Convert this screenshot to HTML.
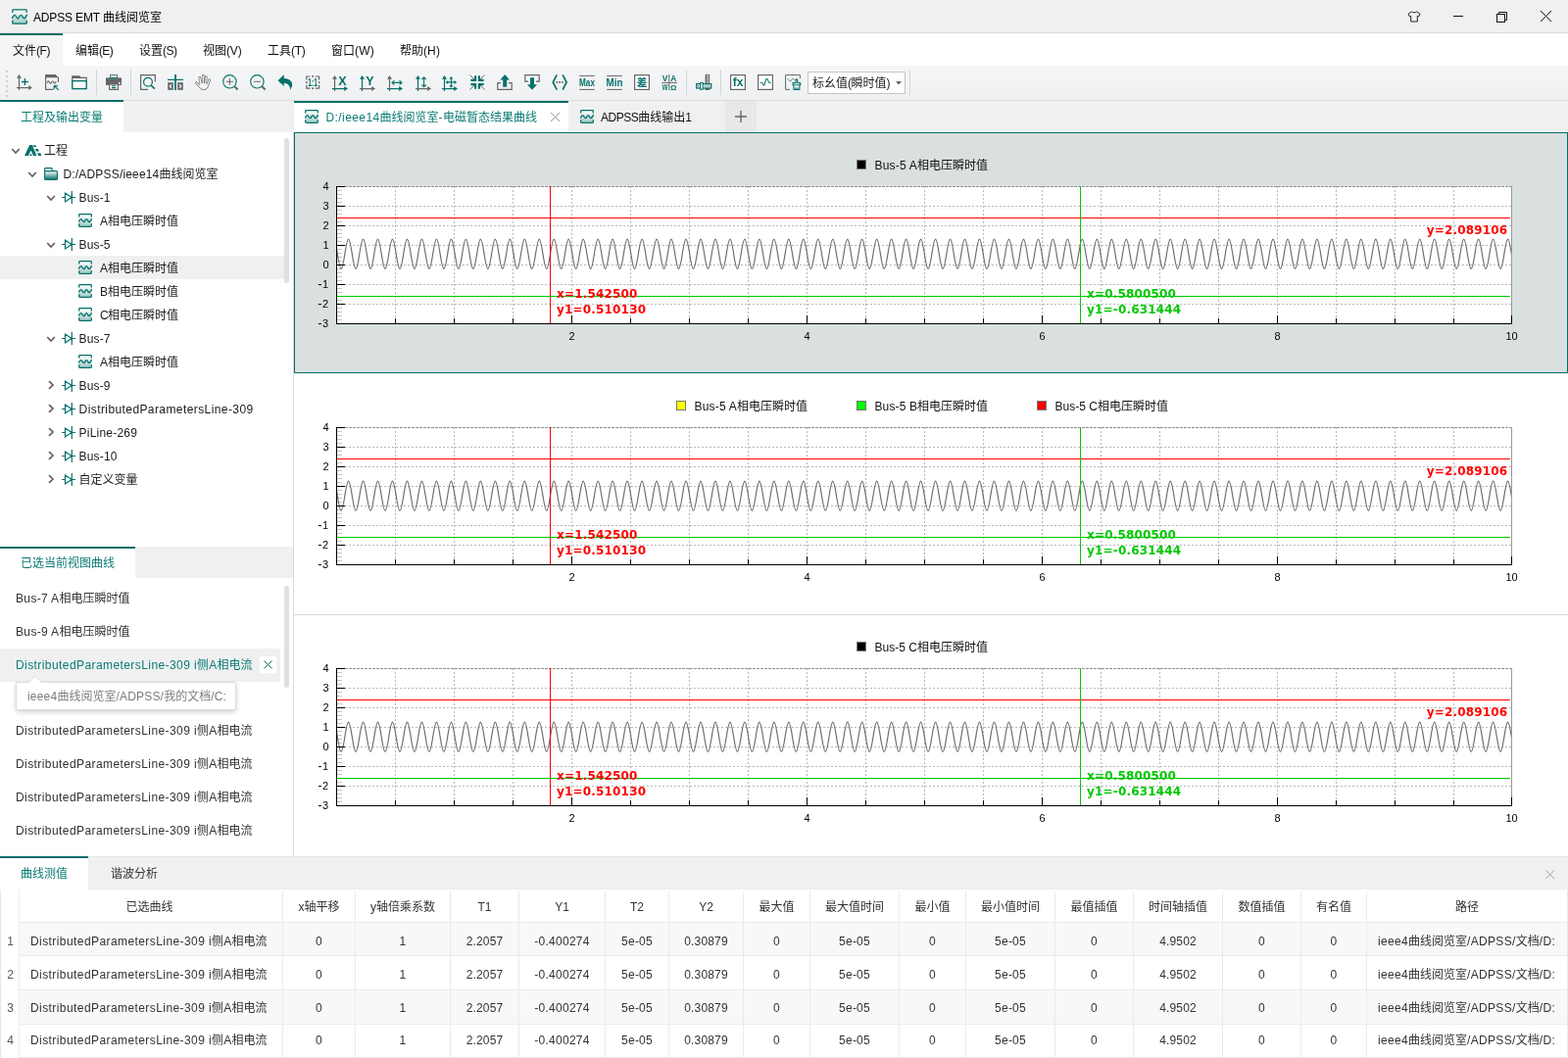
<!DOCTYPE html>
<html lang="zh-CN"><head><meta charset="utf-8"><title>ADPSS EMT 曲线阅览室</title><style>
html,body{margin:0;padding:0}
body{width:1600px;height:1080px;position:relative;overflow:hidden;background:#fff;font:12px 'Liberation Sans','Noto Sans CJK SC',sans-serif;}
body>div,body>svg{position:absolute}
.t{white-space:pre}
.ic{overflow:visible}
</style></head>
<body>
<div style="left:0px;top:0px;width:1600px;height:33px;background:#f0f0f0"></div>
<div style="left:0px;top:33px;width:1600px;height:1px;background:#dadada"></div>
<svg class="ic" style="left:12px;top:9px" width="16" height="16" viewBox="0 0 14 14" ><defs><linearGradient id="gw0" x1="0" y1="0" x2="0" y2="1"><stop offset="0.15" stop-color="#f6f9f9"/><stop offset="1" stop-color="#9cc7c3"/></linearGradient></defs><rect x="0.6" y="0.6" width="12.8" height="12.8" rx="0.8" fill="url(#gw0)"/><path d="M0.7 3.4V1.4q0-.7.7-.7h11.2q.7 0 .7.7V3.4M13.3 10.2v2.4q0 .7-.7.7H1.4q-.7 0-.7-.7V10.2" stroke="#06706a" stroke-width="1.14" fill="none"/><path d="M0.3 8.5C1.2 6.6 1.8 5.6 2.7 5.6S4.4 8.6 5.5 8.6 7.1 5.6 8.2 5.6 9.9 8.6 11 8.6 12.6 6.6 13.7 5.3" stroke="#06706a" stroke-width="1.22" fill="none"/></svg>
<div class="t" style="top:9.5px;line-height:16px;height:16px;color:#000;left:34px;"><span style="letter-spacing:-0.15px">ADPSS EMT </span>曲线阅览室</div>
<svg class="ic" style="left:1436px;top:10.5px" width="14" height="14" viewBox="0 0 14 14" ><path d="M4.6 0.8L1 3.2l1.3 2.7 1.4-.600V11h6.6V5.3l1.4.600 1.3-2.7L9.4 0.8C9 2.2 5 2.2 4.6 0.8z" fill="none" stroke="#222" stroke-width="1" stroke-linejoin="round"/></svg>
<div style="left:1483px;top:16px;width:10px;height:1px;background:#111"></div>
<svg class="ic" style="left:1526px;top:11px" width="13" height="13" viewBox="0 0 13 13" ><path d="M3.5 3.5V1.5h8v8h-2" fill="none" stroke="#111" stroke-width="1"/><rect x="1.5" y="3.5" width="8" height="8" fill="none" stroke="#111" stroke-width="1"/></svg>
<svg class="ic" style="left:1571px;top:10px" width="13" height="13" viewBox="0 0 13 13" ><path d="M1 1l11 11M12 1L1 12" stroke="#111" stroke-width="1" fill="none"/></svg>
<div style="left:0px;top:34px;width:1600px;height:33px;background:#fff"></div>
<div style="left:0px;top:34px;width:64px;height:33px;background:#f5f5f5"></div>
<div style="left:0px;top:34px;width:64px;height:2px;background:#056c67"></div>
<div class="t" style="top:43.5px;line-height:16px;height:16px;color:#111;left:13px;">文件<span style="letter-spacing:-0.44px">(F)</span></div>
<div class="t" style="top:43.5px;line-height:16px;height:16px;color:#111;left:77px;">编辑<span style="letter-spacing:-0.67px">(E)</span></div>
<div class="t" style="top:43.5px;line-height:16px;height:16px;color:#111;left:142px;">设置<span style="letter-spacing:-0.5px">(S)</span></div>
<div class="t" style="top:43.5px;line-height:16px;height:16px;color:#111;left:207px;">视图<span style="letter-spacing:-0.17px">(V)</span></div>
<div class="t" style="top:43.5px;line-height:16px;height:16px;color:#111;left:273px;">工具<span style="letter-spacing:-0.28px">(T)</span></div>
<div class="t" style="top:43.5px;line-height:16px;height:16px;color:#111;left:338px;">窗口<span style="letter-spacing:0.22px">(W)</span></div>
<div class="t" style="top:43.5px;line-height:16px;height:16px;color:#111;left:408px;">帮助<span style="letter-spacing:0.11px">(H)</span></div>
<div style="left:0px;top:67px;width:1600px;height:35px;background:linear-gradient(#f5f6f7,#eef0f1)"></div>
<div style="left:0px;top:102px;width:1600px;height:1px;background:#dcdedd"></div>
<div style="left:6px;top:72px;width:2px;height:2px;background:#c4c4c4;border-radius:1px"></div>
<div style="left:6px;top:77px;width:2px;height:2px;background:#c4c4c4;border-radius:1px"></div>
<div style="left:6px;top:82px;width:2px;height:2px;background:#c4c4c4;border-radius:1px"></div>
<div style="left:6px;top:87px;width:2px;height:2px;background:#c4c4c4;border-radius:1px"></div>
<div style="left:6px;top:92px;width:2px;height:2px;background:#c4c4c4;border-radius:1px"></div>
<div style="left:6px;top:97px;width:2px;height:2px;background:#c4c4c4;border-radius:1px"></div>
<svg class="ic" style="left:17px;top:76px" width="16" height="16" viewBox="0 0 16 16" ><g transform="translate(0 0)"><path d="M2.5 3v13" stroke="#666666" stroke-width="1.2" fill="none"/><path d="M2.5 0L5 3.8H0z" fill="#666666"/><path d="M0 13.6h13" stroke="#666666" stroke-width="1.2" fill="none"/><path d="M16 13.6L12.2 11.1v5z" fill="#666666"/></g><path d="M8.4 4v7M4.9 7.5h7" stroke="#06706a" stroke-width="1.3" fill="none"/></svg>
<svg class="ic" style="left:45px;top:76px" width="16" height="16" viewBox="0 0 16 16" ><path d="M1 0h10.5L15 3.2H1z" fill="#666666"/><path d="M1.6 3v12.4H9M14.4 3v4.8" stroke="#666666" stroke-width="1.2" fill="none"/><path d="M3.2 8.6c.7-2.2 1.5-2.2 2.2-.600s1.5 1.6 2.2 0 1.5-1.6 2.2 0 1.5 1.4 2.4-1" stroke="#666666" stroke-width="1.1" fill="none"/><path d="M10 11.6h3.8M10.2 11.4v3.8M10.6 11.9l4.2 4" stroke="#06706a" stroke-width="1.2" fill="none"/></svg>
<svg class="ic" style="left:73px;top:76px" width="16" height="16" viewBox="0 0 16 16" ><path d="M0.2 1.2h8.2l1.2 1.8H0.2z" fill="#666666"/><path d="M0.8 6.2V3.4h14.4v2.8" fill="#fafafa" stroke="#666666" stroke-width="1.2"/><rect x="0.8" y="6.6" width="14.4" height="8" fill="#fafafa" stroke="#06706a" stroke-width="1.4"/></svg>
<div style="left:98px;top:71px;width:1px;height:26px;background:#cfd8d7"></div>
<svg class="ic" style="left:108px;top:76px" width="16" height="16" viewBox="0 0 16 16" ><rect x="4.6" y="0.6" width="7" height="3.2" fill="#fff" stroke="#666666" stroke-width="1"/><rect x="4.2" y="3" width="7.8" height="1.6" fill="#06706a"/><rect x="0" y="3.4" width="4" height="7.4" fill="#666666"/><rect x="12" y="3.4" width="4" height="7.4" fill="#666666"/><rect x="0" y="4.8" width="16" height="6" fill="#666666"/><rect x="13" y="8" width="1.7" height="1.7" fill="#fff"/><rect x="3.6" y="10" width="8.8" height="5.4" fill="#f4f4f4" stroke="#666666" stroke-width="1.2"/><path d="M6 11.7h4M6 13.6h4" stroke="#06706a" stroke-width="1.1" fill="none"/></svg>
<div style="left:133px;top:71px;width:1px;height:26px;background:#cfd8d7"></div>
<svg class="ic" style="left:143px;top:76px" width="16" height="16" viewBox="0 0 16 16" ><path d="M8 15.4H0.6V0.6h14.8v7" stroke="#666666" stroke-width="1.2" fill="none"/><circle cx="8" cy="7.8" r="4.4" fill="none" stroke="#06706a" stroke-width="1.2"/><path d="M11.2 11.2l3.6 3.4" stroke="#06706a" stroke-width="1.6" fill="none"/></svg>
<svg class="ic" style="left:171px;top:76px" width="16" height="16" viewBox="0 0 16 16" ><rect x="0.2" y="8.2" width="5.6" height="7.6" fill="#666666"/><rect x="10.2" y="8.2" width="5.6" height="7.6" fill="#666666"/><path d="M4 10.2L2.2 12 4 13.8M12 10.2l1.8 1.8-1.8 1.8" stroke="#fff" stroke-width="1.1" fill="none"/><path d="M8 0v16" stroke="#06706a" stroke-width="1.8" fill="none"/><path d="M0 5.4h16" stroke="#06706a" stroke-width="1.2" fill="none"/></svg>
<svg class="ic" style="left:199px;top:76px" width="16" height="16" viewBox="0 0 16 16" ><g fill="none" stroke-linecap="round" stroke-linejoin="round"><path d="M6 9.5L4.8 3.4M8.3 9L8.2 1.3M10.6 9.4l.7-6.8M12.8 10.8l1.9-5.1M5.6 12.8L1.4 8.6" stroke="#666666" stroke-width="2.6"/><path d="M5.6 9l7.4 1-.4 3-2.6 2-3-.2-2.2-2.8z" stroke="#666666" stroke-width="1.8" fill="#666666"/><path d="M6 9.5L4.8 3.4M8.3 9L8.2 1.3M10.6 9.4l.7-6.8M12.8 10.8l1.9-5.1M5.6 12.8L1.4 8.6" stroke="#f4f5f6" stroke-width="1.3"/><path d="M5.6 9l7.4 1-.4 3-2.6 2-3-.2-2.2-2.8z" stroke="#f4f5f6" stroke-width="0.5" fill="#f4f5f6"/></g></svg>
<svg class="ic" style="left:227px;top:76px" width="16" height="16" viewBox="0 0 16 16" ><circle cx="7.4" cy="7.3" r="6.7" fill="none" stroke="#06706a" stroke-width="1.1"/><path d="M3.9 7.3h7M7.4 3.8v7" stroke="#666666" stroke-width="1" fill="none"/><path d="M12.4 12.3l3.2 3.2" stroke="#666666" stroke-width="2" fill="none"/></svg>
<svg class="ic" style="left:255px;top:76px" width="16" height="16" viewBox="0 0 16 16" ><circle cx="7.4" cy="7.3" r="6.7" fill="none" stroke="#06706a" stroke-width="1.1"/><path d="M3.9 7.3h7" stroke="#666666" stroke-width="1" fill="none"/><path d="M12.4 12.3l3.2 3.2" stroke="#666666" stroke-width="2" fill="none"/></svg>
<svg class="ic" style="left:283px;top:76px" width="16" height="16" viewBox="0 0 16 16" ><path d="M0.6 6.2L6.8 0.3V4C12 4 15.4 7 15.2 10.6c-.1 2-1 3.7-2.1 5.4C13.4 12.5 11.5 9 6.8 8.7V12z" fill="#06706a"/></svg>
<svg class="ic" style="left:311px;top:76px" width="16" height="16" viewBox="0 0 16 16" ><path d="M1.8 5.4V2h3.6M10.8 2h3.8v3.4M14.6 10.8v3.4h-3.8M5.4 14.2H1.8v-3.4" fill="none" stroke="#666666" stroke-width="1.2"/><rect x="7.3" y="1.1" width="1.7" height="1.7" fill="#666666"/><rect x="7.3" y="13.4" width="1.7" height="1.7" fill="#666666"/><rect x="0.9" y="7.3" width="1.7" height="1.7" fill="#666666"/><rect x="13.8" y="7.3" width="1.7" height="1.7" fill="#666666"/><text transform="translate(8.2 12) scale(0.64 1)" text-anchor="middle" font-family="Liberation Sans,sans-serif" font-weight="bold" font-size="10.5" fill="#06706a">1:1</text></svg>
<svg class="ic" style="left:339px;top:76px" width="16" height="16" viewBox="0 0 16 16" ><g transform="translate(0 1)"><path d="M2.5 3v13" stroke="#666666" stroke-width="1.2" fill="none"/><path d="M2.5 0L5 3.8H0z" fill="#666666"/><path d="M0 13.6h13" stroke="#06706a" stroke-width="1.2" fill="none"/><path d="M16 13.6L12.2 11.1v5z" fill="#06706a"/></g><text x="10.4" y="10.6" text-anchor="middle" font-family="Liberation Sans,sans-serif" font-weight="bold" font-size="12.5" fill="#06706a">X</text></svg>
<svg class="ic" style="left:367px;top:76px" width="16" height="16" viewBox="0 0 16 16" ><g transform="translate(0 1)"><path d="M2.5 3v13" stroke="#06706a" stroke-width="1.2" fill="none"/><path d="M2.5 0L5 3.8H0z" fill="#06706a"/><path d="M0 13.6h13" stroke="#666666" stroke-width="1.2" fill="none"/><path d="M16 13.6L12.2 11.1v5z" fill="#666666"/></g><text x="10.4" y="10.6" text-anchor="middle" font-family="Liberation Sans,sans-serif" font-weight="bold" font-size="12.5" fill="#06706a">Y</text></svg>
<svg class="ic" style="left:395px;top:76px" width="16" height="16" viewBox="0 0 16 16" ><g transform="translate(0 1)"><path d="M2.5 3v13" stroke="#666666" stroke-width="1.2" fill="none"/><path d="M2.5 0L5 3.8H0z" fill="#666666"/><path d="M0 13.6h13" stroke="#06706a" stroke-width="1.2" fill="none"/><path d="M16 13.6L12.2 11.1v5z" fill="#06706a"/></g><path d="M5.2 8.4h9.6M7.4 6.2L5 8.4l2.4 2.2M12.6 6.2L15 8.4l-2.4 2.2" stroke="#06706a" stroke-width="1.1" fill="none"/></svg>
<svg class="ic" style="left:423px;top:76px" width="16" height="16" viewBox="0 0 16 16" ><g transform="translate(1 1)"><path d="M2.5 3v13" stroke="#06706a" stroke-width="1.2" fill="none"/><path d="M2.5 0L5 3.8H0z" fill="#06706a"/><path d="M0 13.6h13" stroke="#666666" stroke-width="1.2" fill="none"/><path d="M16 13.6L12.2 11.1v5z" fill="#666666"/></g><path d="M9.6 3v9.6M7.4 5.2L9.6 2.8l2.2 2.4M7.4 10.4L9.6 12.8l2.2-2.4" stroke="#06706a" stroke-width="1.1" fill="none"/></svg>
<svg class="ic" style="left:451px;top:76px" width="16" height="16" viewBox="0 0 16 16" ><g transform="translate(0 1)"><path d="M2.5 3v13" stroke="#06706a" stroke-width="1.2" fill="none"/><path d="M2.5 0L5 3.8H0z" fill="#06706a"/><path d="M0 13.6h13" stroke="#06706a" stroke-width="1.2" fill="none"/><path d="M16 13.6L12.2 11.1v5z" fill="#06706a"/></g><path d="M9.4 3.4v9M5 7.9h9" stroke="#06706a" stroke-width="1.1" fill="none"/><path d="M9.4 2L7.4 4.6h4zM9.4 13.8L7.4 11.2h4zM3.6 7.9L6.2 5.9v4zM15.2 7.9L12.6 5.9v4z" fill="#06706a"/></svg>
<svg class="ic" style="left:479px;top:76px" width="16" height="16" viewBox="0 0 16 16" ><path d="M0.4 0.4l5 5M15.6 0.4l-5 5M0.4 15.6l5-5M15.6 15.6l-5-5" stroke="#555" stroke-width="0.8" fill="none"/><path d="M1.4 5.9h4.7V1.2M14.6 5.9H9.9V1.2M1.4 10.1h4.7v4.7M14.6 10.1H9.9v4.7" stroke="#06706a" stroke-width="2.1" fill="none"/></svg>
<svg class="ic" style="left:507px;top:76px" width="16" height="16" viewBox="0 0 16 16" ><path d="M4 8.6H0.8v6.8h14.4V8.6H12" stroke="#666666" stroke-width="1.2" fill="none"/><path d="M8.2 0L13 5.6H10.2V12.8H6.2V5.6H3.4z" fill="#06706a"/></svg>
<svg class="ic" style="left:535px;top:76px" width="16" height="16" viewBox="0 0 16 16" ><path d="M4 7.2H0.8V0.7h14.4v6.5H12" stroke="#666666" stroke-width="1.2" fill="none"/><path d="M8 15.8L3 10.2H6V3.2h4V10.2h3z" fill="#06706a"/></svg>
<svg class="ic" style="left:563px;top:76px" width="16" height="16" viewBox="0 0 16 16" ><path d="M5.2 0.4L1.3 8l3.9 7.6M11.2 0.4L15.1 8l-3.9 7.6" stroke="#06706a" stroke-width="1.7" fill="none"/><rect x="4.6" y="7.1" width="1.7" height="1.7" fill="#666666"/><rect x="7.3" y="7.1" width="1.7" height="1.7" fill="#666666"/><rect x="10" y="7.1" width="1.7" height="1.7" fill="#666666"/></svg>
<svg class="ic" style="left:591px;top:76px" width="16" height="16" viewBox="0 0 16 16" ><path d="M0.2 1.4h15.6M0.2 15.4h15.6" stroke="#666666" stroke-width="1" fill="none"/><text transform="translate(8 12.1) scale(0.82 1)" text-anchor="middle" font-family="Liberation Sans,sans-serif" font-weight="bold" font-size="10" fill="#06706a">Max</text></svg>
<svg class="ic" style="left:619px;top:76px" width="16" height="16" viewBox="0 0 16 16" ><path d="M0.2 1.4h15.6M0.2 15.4h15.6" stroke="#666666" stroke-width="1" fill="none"/><text transform="translate(8 12.1) scale(0.98 1)" text-anchor="middle" font-family="Liberation Sans,sans-serif" font-weight="bold" font-size="10" fill="#06706a">Min</text></svg>
<svg class="ic" style="left:647px;top:76px" width="16" height="16" viewBox="0 0 16 16" ><rect x="0.6" y="0.6" width="14.8" height="14.8" fill="#fff" stroke="#666666" stroke-width="1.2"/><text x="8" y="12" text-anchor="middle" font-family="Liberation Sans,Noto Sans CJK SC,sans-serif" font-weight="bold" font-size="10.5" fill="#06706a">差</text></svg>
<svg class="ic" style="left:675px;top:76px" width="16" height="16" viewBox="0 0 16 16" ><path d="M7.8 0v16M0.4 8.4h15.6" stroke="#666666" stroke-width="1" fill="none"/><g font-family="Liberation Sans,sans-serif" font-weight="bold" font-size="8.4" fill="#06706a" text-anchor="middle"><text x="3.6" y="6.7">V</text><text x="12.2" y="6.7">A</text><text transform="translate(3.6 15.7) scale(0.72 1)">W</text><text x="12.2" y="15.7" font-size="8">Ω</text></g></svg>
<div style="left:700px;top:71px;width:1px;height:26px;background:#cfd8d7"></div>
<svg class="ic" style="left:710px;top:76px" width="16" height="16" viewBox="0 0 16 16" ><rect x="9.6" y="0" width="4.6" height="16" fill="#666666"/><path d="M11 1.6h2.4M11 3.7h2.4M11 5.8h2.4M11 7.9h2.4" stroke="#f0f0f0" stroke-width="1" fill="none"/><rect x="0.7" y="9.7" width="15" height="4.3" fill="#fff" stroke="#06706a" stroke-width="1.3"/><rect x="4.6" y="8.6" width="2.6" height="6.6" fill="#fff" stroke="#06706a" stroke-width="1.1"/><path d="M2.6 11.2v1.4M9.6 11.2v1.4M11.6 11.2v1.4M13.6 11.2v1.4" stroke="#06706a" stroke-width="1" fill="none"/></svg>
<div style="left:735px;top:71px;width:1px;height:26px;background:#cfd8d7"></div>
<svg class="ic" style="left:745px;top:76px" width="16" height="16" viewBox="0 0 16 16" ><rect x="0.6" y="0.6" width="14.8" height="14.8" fill="#fff" stroke="#666666" stroke-width="1.2"/><text x="8" y="12.2" text-anchor="middle" font-family="Liberation Sans,sans-serif" font-weight="bold" font-size="12" fill="#06706a">fx</text></svg>
<svg class="ic" style="left:773px;top:76px" width="16" height="16" viewBox="0 0 16 16" ><rect x="0.6" y="0.6" width="14.8" height="14.8" fill="#fff" stroke="#666666" stroke-width="1.2"/><path d="M2.6 8.2h1.6c1.2 0 1.4 3 2.4 3s1.6-7 2.8-7 1.4 4.2 2.8 4.2h1.2" stroke="#06706a" stroke-width="1.1" fill="none"/></svg>
<svg class="ic" style="left:801px;top:76px" width="16" height="16" viewBox="0 0 16 16" ><path d="M5 15.4H0.6V0.6h14.8v3.6" stroke="#666666" stroke-width="1" fill="none"/><path d="M2.6 4.6c1.2 0 1.6 2.4 2.8 2.4s1.2-2.8 2.4-2.8 1 1.4 2 1.4 1.2-.8 3-.8" stroke="#666666" stroke-width="0.9" fill="none"/><path d="M11.1 5.2h1.6v3.4h3v2.2h-7.6V8.6h3zM8.9 10.8v4.6h6v-4.6M10.9 13.2v2.2M12.9 13.2v2.2" stroke="#06706a" stroke-width="1.1" fill="#fff" stroke-linejoin="round"/></svg>
<div style="left:824px;top:73px;width:100px;height:23px;background:#fff;border:1px solid #c4c4c4;box-sizing:border-box"></div>
<div class="t" style="top:76.5px;line-height:16px;height:16px;color:#222;left:829px;">标幺值<span style="letter-spacing:-0.5px">(</span>瞬时值<span style="letter-spacing:-0.5px">)</span></div>
<svg class="ic" style="left:914px;top:83px" width="6" height="4" viewBox="0 0 6 4" ><path d="M0 0h6L3 3.6z" fill="#666"/></svg>
<div style="left:928px;top:71px;width:1px;height:26px;background:#cfd8d7"></div>
<div style="left:0px;top:103px;width:300px;height:32px;background:#f0f0f0"></div>
<div style="left:0px;top:103px;width:126px;height:32px;background:#fff"></div>
<div style="left:0px;top:102px;width:126px;height:2px;background:#056c67"></div>
<div class="t" style="top:111.5px;line-height:16px;height:16px;color:#0b7b74;left:21px;">工程及输出变量</div>
<div style="left:0px;top:135px;width:299px;height:423px;background:#fff"></div>
<div style="left:299px;top:135px;width:1px;height:739px;background:#d3dcdb"></div>
<div style="left:0px;top:261px;width:290px;height:24px;background:#f0f0f0"></div>
<div style="left:290px;top:141px;width:5px;height:148px;background:#e0e0e0;border-radius:3px"></div>
<svg class="ic" style="left:10.7px;top:149.6px" width="10" height="8" viewBox="0 0 10 8" ><path d="M1.2 2L5 6l3.8-4" stroke="#626262" stroke-width="1.7" fill="none"/></svg>
<svg class="ic" style="left:25px;top:147.9px" width="17" height="11" viewBox="0 0 17 11" ><path d="M0 11L5.2 0h2.7L12.4 11H9L6.5 5.6 4 11z" fill="#06706a"/><path d="M5.2 11l1.3-2.6 1.3 2.6zM8.6 0.2h2.8l.8 1.8H9.4zM10.9 4.1h3.1l.8 2.3h-3zM13.1 8.2h3.4l.7 2.8h-3z" fill="#06706a"/></svg>
<div class="t" style="top:145.5px;line-height:16px;height:16px;color:#1a1a1a;left:45px;">工程</div>
<svg class="ic" style="left:27.9px;top:173.6px" width="10" height="8" viewBox="0 0 10 8" ><path d="M1.2 2L5 6l3.8-4" stroke="#626262" stroke-width="1.7" fill="none"/></svg>
<svg class="ic" style="left:45px;top:171px" width="14" height="13" viewBox="0 0 14 13" ><defs><linearGradient id="gf2" x1="0" y1="0" x2="0" y2="1"><stop offset="0" stop-color="#fff"/><stop offset="1" stop-color="#06706a"/></linearGradient></defs><path d="M0.6 4V1.4q0-.8.8-.8H7.4q.8 0 .8.8V3" stroke="#06706a" stroke-width="1.1" fill="#fff"/><rect x="0.6" y="3.6" width="12.8" height="8.8" rx="1" fill="url(#gf2)" stroke="#06706a" stroke-width="1.1"/></svg>
<div class="t" style="top:169.5px;line-height:16px;height:16px;color:#1a1a1a;left:64.5px;"><span style="letter-spacing:0.17px">D:/ADPSS/ieee14</span>曲线阅览室</div>
<svg class="ic" style="left:46.8px;top:197.6px" width="10" height="8" viewBox="0 0 10 8" ><path d="M1.2 2L5 6l3.8-4" stroke="#626262" stroke-width="1.7" fill="none"/></svg>
<svg class="ic" style="left:63px;top:194.7px" width="14" height="13" viewBox="0 0 14 13" ><path d="M0 6.5h3.4M10.3 6.5H14M10.3 0v13M3.5 2.1v8.8L10.1 6.5z" stroke="#06706a" stroke-width="1.2" fill="none"/></svg>
<div class="t" style="top:193.5px;line-height:16px;height:16px;color:#1a1a1a;left:80.6px;"><span style="letter-spacing:0.13px">Bus-1</span></div>
<svg class="ic" style="left:80px;top:218px" width="14" height="14" viewBox="0 0 14 14" ><defs><linearGradient id="gw4" x1="0" y1="0" x2="0" y2="1"><stop offset="0.15" stop-color="#f6f9f9"/><stop offset="1" stop-color="#9cc7c3"/></linearGradient></defs><rect x="0.6" y="0.6" width="12.8" height="12.8" rx="0.8" fill="url(#gw4)"/><path d="M0.7 3.4V1.4q0-.7.7-.7h11.2q.7 0 .7.7V3.4M13.3 10.2v2.4q0 .7-.7.7H1.4q-.7 0-.7-.7V10.2" stroke="#06706a" stroke-width="1.3" fill="none"/><path d="M0.3 8.5C1.2 6.6 1.8 5.6 2.7 5.6S4.4 8.6 5.5 8.6 7.1 5.6 8.2 5.6 9.9 8.6 11 8.6 12.6 6.6 13.7 5.3" stroke="#06706a" stroke-width="1.4" fill="none"/></svg>
<div class="t" style="top:217.5px;line-height:16px;height:16px;color:#1a1a1a;left:102px;"><span style="letter-spacing:-0.02px">A</span>相电压瞬时值</div>
<svg class="ic" style="left:46.8px;top:245.6px" width="10" height="8" viewBox="0 0 10 8" ><path d="M1.2 2L5 6l3.8-4" stroke="#626262" stroke-width="1.7" fill="none"/></svg>
<svg class="ic" style="left:63px;top:242.7px" width="14" height="13" viewBox="0 0 14 13" ><path d="M0 6.5h3.4M10.3 6.5H14M10.3 0v13M3.5 2.1v8.8L10.1 6.5z" stroke="#06706a" stroke-width="1.2" fill="none"/></svg>
<div class="t" style="top:241.5px;line-height:16px;height:16px;color:#1a1a1a;left:80.6px;"><span style="letter-spacing:0.13px">Bus-5</span></div>
<svg class="ic" style="left:80px;top:266px" width="14" height="14" viewBox="0 0 14 14" ><defs><linearGradient id="gw6" x1="0" y1="0" x2="0" y2="1"><stop offset="0.15" stop-color="#f6f9f9"/><stop offset="1" stop-color="#9cc7c3"/></linearGradient></defs><rect x="0.6" y="0.6" width="12.8" height="12.8" rx="0.8" fill="url(#gw6)"/><path d="M0.7 3.4V1.4q0-.7.7-.7h11.2q.7 0 .7.7V3.4M13.3 10.2v2.4q0 .7-.7.7H1.4q-.7 0-.7-.7V10.2" stroke="#06706a" stroke-width="1.3" fill="none"/><path d="M0.3 8.5C1.2 6.6 1.8 5.6 2.7 5.6S4.4 8.6 5.5 8.6 7.1 5.6 8.2 5.6 9.9 8.6 11 8.6 12.6 6.6 13.7 5.3" stroke="#06706a" stroke-width="1.4" fill="none"/></svg>
<div class="t" style="top:265.5px;line-height:16px;height:16px;color:#1a1a1a;left:102px;"><span style="letter-spacing:-0.02px">A</span>相电压瞬时值</div>
<svg class="ic" style="left:80px;top:290px" width="14" height="14" viewBox="0 0 14 14" ><defs><linearGradient id="gw7" x1="0" y1="0" x2="0" y2="1"><stop offset="0.15" stop-color="#f6f9f9"/><stop offset="1" stop-color="#9cc7c3"/></linearGradient></defs><rect x="0.6" y="0.6" width="12.8" height="12.8" rx="0.8" fill="url(#gw7)"/><path d="M0.7 3.4V1.4q0-.7.7-.7h11.2q.7 0 .7.7V3.4M13.3 10.2v2.4q0 .7-.7.7H1.4q-.7 0-.7-.7V10.2" stroke="#06706a" stroke-width="1.3" fill="none"/><path d="M0.3 8.5C1.2 6.6 1.8 5.6 2.7 5.6S4.4 8.6 5.5 8.6 7.1 5.6 8.2 5.6 9.9 8.6 11 8.6 12.6 6.6 13.7 5.3" stroke="#06706a" stroke-width="1.4" fill="none"/></svg>
<div class="t" style="top:289.5px;line-height:16px;height:16px;color:#1a1a1a;left:102px;"><span style="letter-spacing:-0.02px">B</span>相电压瞬时值</div>
<svg class="ic" style="left:80px;top:314px" width="14" height="14" viewBox="0 0 14 14" ><defs><linearGradient id="gw8" x1="0" y1="0" x2="0" y2="1"><stop offset="0.15" stop-color="#f6f9f9"/><stop offset="1" stop-color="#9cc7c3"/></linearGradient></defs><rect x="0.6" y="0.6" width="12.8" height="12.8" rx="0.8" fill="url(#gw8)"/><path d="M0.7 3.4V1.4q0-.7.7-.7h11.2q.7 0 .7.7V3.4M13.3 10.2v2.4q0 .7-.7.7H1.4q-.7 0-.7-.7V10.2" stroke="#06706a" stroke-width="1.3" fill="none"/><path d="M0.3 8.5C1.2 6.6 1.8 5.6 2.7 5.6S4.4 8.6 5.5 8.6 7.1 5.6 8.2 5.6 9.9 8.6 11 8.6 12.6 6.6 13.7 5.3" stroke="#06706a" stroke-width="1.4" fill="none"/></svg>
<div class="t" style="top:313.5px;line-height:16px;height:16px;color:#1a1a1a;left:102px;"><span style="letter-spacing:-0.67px">C</span>相电压瞬时值</div>
<svg class="ic" style="left:46.8px;top:341.6px" width="10" height="8" viewBox="0 0 10 8" ><path d="M1.2 2L5 6l3.8-4" stroke="#626262" stroke-width="1.7" fill="none"/></svg>
<svg class="ic" style="left:63px;top:338.7px" width="14" height="13" viewBox="0 0 14 13" ><path d="M0 6.5h3.4M10.3 6.5H14M10.3 0v13M3.5 2.1v8.8L10.1 6.5z" stroke="#06706a" stroke-width="1.2" fill="none"/></svg>
<div class="t" style="top:337.5px;line-height:16px;height:16px;color:#1a1a1a;left:80.6px;"><span style="letter-spacing:0.13px">Bus-7</span></div>
<svg class="ic" style="left:80px;top:362px" width="14" height="14" viewBox="0 0 14 14" ><defs><linearGradient id="gw10" x1="0" y1="0" x2="0" y2="1"><stop offset="0.15" stop-color="#f6f9f9"/><stop offset="1" stop-color="#9cc7c3"/></linearGradient></defs><rect x="0.6" y="0.6" width="12.8" height="12.8" rx="0.8" fill="url(#gw10)"/><path d="M0.7 3.4V1.4q0-.7.7-.7h11.2q.7 0 .7.7V3.4M13.3 10.2v2.4q0 .7-.7.7H1.4q-.7 0-.7-.7V10.2" stroke="#06706a" stroke-width="1.3" fill="none"/><path d="M0.3 8.5C1.2 6.6 1.8 5.6 2.7 5.6S4.4 8.6 5.5 8.6 7.1 5.6 8.2 5.6 9.9 8.6 11 8.6 12.6 6.6 13.7 5.3" stroke="#06706a" stroke-width="1.4" fill="none"/></svg>
<div class="t" style="top:361.5px;line-height:16px;height:16px;color:#1a1a1a;left:102px;"><span style="letter-spacing:-0.02px">A</span>相电压瞬时值</div>
<svg class="ic" style="left:48.4px;top:387.8px" width="8" height="10" viewBox="0 0 8 10" ><path d="M2 1.2l4 3.8-4 3.8" stroke="#626262" stroke-width="1.7" fill="none"/></svg>
<svg class="ic" style="left:63px;top:386.7px" width="14" height="13" viewBox="0 0 14 13" ><path d="M0 6.5h3.4M10.3 6.5H14M10.3 0v13M3.5 2.1v8.8L10.1 6.5z" stroke="#06706a" stroke-width="1.2" fill="none"/></svg>
<div class="t" style="top:385.5px;line-height:16px;height:16px;color:#1a1a1a;left:80.6px;"><span style="letter-spacing:0.13px">Bus-9</span></div>
<svg class="ic" style="left:48.4px;top:411.8px" width="8" height="10" viewBox="0 0 8 10" ><path d="M2 1.2l4 3.8-4 3.8" stroke="#626262" stroke-width="1.7" fill="none"/></svg>
<svg class="ic" style="left:63px;top:410.7px" width="14" height="13" viewBox="0 0 14 13" ><path d="M0 6.5h3.4M10.3 6.5H14M10.3 0v13M3.5 2.1v8.8L10.1 6.5z" stroke="#06706a" stroke-width="1.2" fill="none"/></svg>
<div class="t" style="top:409.5px;line-height:16px;height:16px;color:#1a1a1a;left:80.6px;"><span style="letter-spacing:0.41px">DistributedParametersLine-309</span></div>
<svg class="ic" style="left:48.4px;top:435.8px" width="8" height="10" viewBox="0 0 8 10" ><path d="M2 1.2l4 3.8-4 3.8" stroke="#626262" stroke-width="1.7" fill="none"/></svg>
<svg class="ic" style="left:63px;top:434.7px" width="14" height="13" viewBox="0 0 14 13" ><path d="M0 6.5h3.4M10.3 6.5H14M10.3 0v13M3.5 2.1v8.8L10.1 6.5z" stroke="#06706a" stroke-width="1.2" fill="none"/></svg>
<div class="t" style="top:433.5px;line-height:16px;height:16px;color:#1a1a1a;left:80.6px;"><span style="letter-spacing:0.21px">PiLine-269</span></div>
<svg class="ic" style="left:48.4px;top:459.8px" width="8" height="10" viewBox="0 0 8 10" ><path d="M2 1.2l4 3.8-4 3.8" stroke="#626262" stroke-width="1.7" fill="none"/></svg>
<svg class="ic" style="left:63px;top:458.7px" width="14" height="13" viewBox="0 0 14 13" ><path d="M0 6.5h3.4M10.3 6.5H14M10.3 0v13M3.5 2.1v8.8L10.1 6.5z" stroke="#06706a" stroke-width="1.2" fill="none"/></svg>
<div class="t" style="top:457.5px;line-height:16px;height:16px;color:#1a1a1a;left:80.6px;"><span style="letter-spacing:0.16px">Bus-10</span></div>
<svg class="ic" style="left:48.4px;top:483.8px" width="8" height="10" viewBox="0 0 8 10" ><path d="M2 1.2l4 3.8-4 3.8" stroke="#626262" stroke-width="1.7" fill="none"/></svg>
<svg class="ic" style="left:63px;top:482.7px" width="14" height="13" viewBox="0 0 14 13" ><path d="M0 6.5h3.4M10.3 6.5H14M10.3 0v13M3.5 2.1v8.8L10.1 6.5z" stroke="#06706a" stroke-width="1.2" fill="none"/></svg>
<div class="t" style="top:481.5px;line-height:16px;height:16px;color:#1a1a1a;left:80.6px;">自定义变量</div>
<div style="left:0px;top:558px;width:299px;height:32px;background:#f0f0f0"></div>
<div style="left:0px;top:558px;width:138px;height:32px;background:#fff"></div>
<div style="left:0px;top:558px;width:138px;height:2px;background:#056c67"></div>
<div class="t" style="top:566.5px;line-height:16px;height:16px;color:#0b7b74;left:21px;">已选当前视图曲线</div>
<div style="left:0px;top:590px;width:299px;height:284px;background:#fff"></div>
<div style="left:290px;top:598px;width:5px;height:104px;background:#e0e0e0;border-radius:3px"></div>
<div style="left:0px;top:662px;width:286px;height:34px;background:#f0f0f0"></div>
<div class="t" style="top:602.5px;line-height:16px;height:16px;color:#333;left:16px;"><span style="letter-spacing:0.35px">Bus-7 A</span>相电压瞬时值</div>
<div class="t" style="top:636.5px;line-height:16px;height:16px;color:#333;left:16px;"><span style="letter-spacing:0.35px">Bus-9 A</span>相电压瞬时值</div>
<div class="t" style="top:670.5px;line-height:16px;height:16px;color:#0b7b74;left:16px;"><span style="letter-spacing:0.42px">DistributedParametersLine-309 i</span>侧<span style="letter-spacing:0.42px">A</span>相电流</div>
<div style="left:265px;top:670px;width:17px;height:17px;background:#fff;border-radius:2px"></div>
<svg class="ic" style="left:269px;top:674px" width="9" height="9" viewBox="0 0 9 9" ><path d="M0.5 0.5l8 8M8.5 0.5l-8 8" stroke="#056c67" stroke-width="1" fill="none"/></svg>
<div class="t" style="top:737.5px;line-height:16px;height:16px;color:#333;left:16px;"><span style="letter-spacing:0.42px">DistributedParametersLine-309 i</span>侧<span style="letter-spacing:0.42px">A</span>相电流</div>
<div class="t" style="top:771.5px;line-height:16px;height:16px;color:#333;left:16px;"><span style="letter-spacing:0.42px">DistributedParametersLine-309 i</span>侧<span style="letter-spacing:0.42px">A</span>相电流</div>
<div class="t" style="top:805.5px;line-height:16px;height:16px;color:#333;left:16px;"><span style="letter-spacing:0.42px">DistributedParametersLine-309 i</span>侧<span style="letter-spacing:0.42px">A</span>相电流</div>
<div class="t" style="top:839.5px;line-height:16px;height:16px;color:#333;left:16px;"><span style="letter-spacing:0.42px">DistributedParametersLine-309 i</span>侧<span style="letter-spacing:0.42px">A</span>相电流</div>
<div style="left:16px;top:696px;width:225px;height:29px;background:#fff;border:1px solid #dcdcdc;border-radius:2px;box-sizing:border-box;box-shadow:0 2px 5px rgba(0,0,0,.18)"></div>
<svg class="ic" style="left:29px;top:689px" width="14" height="10" viewBox="0 0 14 10" ><path d="M0 8L7 1l7 7" fill="#fff" stroke="#dcdcdc" stroke-width="1"/><path d="M1 9h12" stroke="#fff" stroke-width="2"/></svg>
<div class="t" style="top:702.5px;line-height:16px;height:16px;color:#7c7c7c;left:28px;"><span style="letter-spacing:0.2px">ieee4</span>曲线阅览室<span style="letter-spacing:0.2px">/ADPSS/</span>我的文档<span style="letter-spacing:0.2px">/C:</span></div>
<div style="left:300px;top:103px;width:1300px;height:32px;background:#f0f0f0"></div>
<div style="left:300px;top:103px;width:280px;height:32px;background:#fff"></div>
<div style="left:300px;top:103px;width:280px;height:2px;background:#056c67"></div>
<svg class="ic" style="left:311px;top:112px" width="14" height="14" viewBox="0 0 14 14" ><defs><linearGradient id="gwt1" x1="0" y1="0" x2="0" y2="1"><stop offset="0.15" stop-color="#f6f9f9"/><stop offset="1" stop-color="#9cc7c3"/></linearGradient></defs><rect x="0.6" y="0.6" width="12.8" height="12.8" rx="0.8" fill="url(#gwt1)"/><path d="M0.7 3.4V1.4q0-.7.7-.7h11.2q.7 0 .7.7V3.4M13.3 10.2v2.4q0 .7-.7.7H1.4q-.7 0-.7-.7V10.2" stroke="#06706a" stroke-width="1.3" fill="none"/><path d="M0.3 8.5C1.2 6.6 1.8 5.6 2.7 5.6S4.4 8.6 5.5 8.6 7.1 5.6 8.2 5.6 9.9 8.6 11 8.6 12.6 6.6 13.7 5.3" stroke="#06706a" stroke-width="1.4" fill="none"/></svg>
<div class="t" style="top:111.5px;line-height:16px;height:16px;color:#0b7b74;left:332.5px;"><span style="letter-spacing:0.41px">D:/ieee14</span>曲线阅览室<span style="letter-spacing:0.41px">-</span>电磁暂态结果曲线</div>
<svg class="ic" style="left:561px;top:114px" width="11" height="11" viewBox="0 0 11 11" ><path d="M1 1l9 9M10 1L1 10" stroke="#8a8a8a" stroke-width="0.9" fill="none"/></svg>
<svg class="ic" style="left:592px;top:112px" width="14" height="14" viewBox="0 0 14 14" ><defs><linearGradient id="gwt2" x1="0" y1="0" x2="0" y2="1"><stop offset="0.15" stop-color="#f6f9f9"/><stop offset="1" stop-color="#9cc7c3"/></linearGradient></defs><rect x="0.6" y="0.6" width="12.8" height="12.8" rx="0.8" fill="url(#gwt2)"/><path d="M0.7 3.4V1.4q0-.7.7-.7h11.2q.7 0 .7.7V3.4M13.3 10.2v2.4q0 .7-.7.7H1.4q-.7 0-.7-.7V10.2" stroke="#06706a" stroke-width="1.3" fill="none"/><path d="M0.3 8.5C1.2 6.6 1.8 5.6 2.7 5.6S4.4 8.6 5.5 8.6 7.1 5.6 8.2 5.6 9.9 8.6 11 8.6 12.6 6.6 13.7 5.3" stroke="#06706a" stroke-width="1.4" fill="none"/></svg>
<div class="t" style="top:111.5px;line-height:16px;height:16px;color:#111;left:613px;"><span style="letter-spacing:-0.48px">ADPSS</span>曲线输出<span style="letter-spacing:-0.48px">1</span></div>
<div style="left:740px;top:103px;width:32px;height:32px;background:#e8e8e8"></div>
<svg class="ic" style="left:750px;top:113px" width="12" height="12" viewBox="0 0 12 12" ><path d="M6 0v12M0 6h12" stroke="#666" stroke-width="1.4" fill="none"/></svg>
<div style="left:300px;top:135px;width:1300px;height:739px;background:#fff"></div>
<div style="left:300px;top:135px;width:1300px;height:246px;background:#d9e0df;border:1px solid #056c67;box-sizing:border-box"></div>
<div style="left:300px;top:627px;width:1300px;height:1px;background:#cfdad8"></div>
<svg width="0" height="0" style="position:absolute"><defs><path id="wv" d="M-3.39,54.2C-2.04,54.2 -0.87,61.56 0.35,69.3C1.57,77.04 2.74,84.4 4.09,84.4C5.45,84.4 6.62,77.04 7.84,69.3C9.06,61.56 10.23,54.2 11.58,54.2C12.93,54.2 14.1,61.56 15.32,69.3C16.54,77.04 17.71,84.4 19.07,84.4C20.42,84.4 21.59,77.04 22.81,69.3C24.03,61.56 25.2,54.2 26.55,54.2C27.91,54.2 29.08,61.56 30.3,69.3C31.52,77.04 32.69,84.4 34.04,84.4C35.4,84.4 36.57,77.04 37.79,69.3C39.01,61.56 40.18,54.2 41.53,54.2C42.88,54.2 44.05,61.56 45.27,69.3C46.49,77.04 47.66,84.4 49.02,84.4C50.37,84.4 51.54,77.04 52.76,69.3C53.98,61.56 55.15,54.2 56.5,54.2C57.86,54.2 59.03,61.56 60.25,69.3C61.47,77.04 62.64,84.4 63.99,84.4C65.35,84.4 66.52,77.04 67.74,69.3C68.96,61.56 70.13,54.2 71.48,54.2C72.83,54.2 74,61.56 75.22,69.3C76.44,77.04 77.61,84.4 78.97,84.4C80.32,84.4 81.49,77.04 82.71,69.3C83.93,61.56 85.1,54.2 86.45,54.2C87.81,54.2 88.98,61.56 90.2,69.3C91.42,77.04 92.59,84.4 93.94,84.4C95.3,84.4 96.47,77.04 97.69,69.3C98.91,61.56 100.08,54.2 101.43,54.2C102.78,54.2 103.95,61.56 105.17,69.3C106.39,77.04 107.56,84.4 108.92,84.4C110.27,84.4 111.44,77.04 112.66,69.3C113.88,61.56 115.05,54.2 116.41,54.2C117.76,54.2 118.93,61.56 120.15,69.3C121.37,77.04 122.54,84.4 123.89,84.4C125.25,84.4 126.42,77.04 127.64,69.3C128.86,61.56 130.03,54.2 131.38,54.2C132.73,54.2 133.9,61.56 135.12,69.3C136.34,77.04 137.51,84.4 138.87,84.4C140.22,84.4 141.39,77.04 142.61,69.3C143.83,61.56 145,54.2 146.35,54.2C147.71,54.2 148.88,61.56 150.1,69.3C151.32,77.04 152.49,84.4 153.84,84.4C155.2,84.4 156.37,77.04 157.59,69.3C158.81,61.56 159.98,54.2 161.33,54.2C162.68,54.2 163.85,61.56 165.07,69.3C166.29,77.04 167.46,84.4 168.82,84.4C170.17,84.4 171.34,77.04 172.56,69.3C173.78,61.56 174.95,54.2 176.3,54.2C177.66,54.2 178.83,61.56 180.05,69.3C181.27,77.04 182.44,84.4 183.79,84.4C185.15,84.4 186.32,77.04 187.54,69.3C188.76,61.56 189.93,54.2 191.28,54.2C192.63,54.2 193.8,61.56 195.02,69.3C196.24,77.04 197.41,84.4 198.77,84.4C200.12,84.4 201.29,77.04 202.51,69.3C203.73,61.56 204.9,54.2 206.26,54.2C207.61,54.2 208.78,61.56 210,69.3C211.22,77.04 212.39,84.4 213.74,84.4C215.1,84.4 216.27,77.04 217.49,69.3C218.71,61.56 219.88,54.2 221.23,54.2C222.58,54.2 223.75,61.56 224.97,69.3C226.19,77.04 227.36,84.4 228.72,84.4C230.07,84.4 231.24,77.04 232.46,69.3C233.68,61.56 234.85,54.2 236.2,54.2C237.56,54.2 238.73,61.56 239.95,69.3C241.17,77.04 242.34,84.4 243.69,84.4C245.05,84.4 246.22,77.04 247.44,69.3C248.66,61.56 249.83,54.2 251.18,54.2C252.53,54.2 253.7,61.56 254.92,69.3C256.14,77.04 257.31,84.4 258.67,84.4C260.02,84.4 261.19,77.04 262.41,69.3C263.63,61.56 264.8,54.2 266.16,54.2C267.51,54.2 268.68,61.56 269.9,69.3C271.12,77.04 272.29,84.4 273.64,84.4C275,84.4 276.17,77.04 277.39,69.3C278.61,61.56 279.78,54.2 281.13,54.2C282.48,54.2 283.65,61.56 284.87,69.3C286.09,77.04 287.26,84.4 288.62,84.4C289.97,84.4 291.14,77.04 292.36,69.3C293.58,61.56 294.75,54.2 296.11,54.2C297.46,54.2 298.63,61.56 299.85,69.3C301.07,77.04 302.24,84.4 303.59,84.4C304.95,84.4 306.12,77.04 307.34,69.3C308.56,61.56 309.73,54.2 311.08,54.2C312.43,54.2 313.6,61.56 314.82,69.3C316.04,77.04 317.21,84.4 318.57,84.4C319.92,84.4 321.09,77.04 322.31,69.3C323.53,61.56 324.7,54.2 326.06,54.2C327.41,54.2 328.58,61.56 329.8,69.3C331.02,77.04 332.19,84.4 333.54,84.4C334.9,84.4 336.07,77.04 337.29,69.3C338.51,61.56 339.68,54.2 341.03,54.2C342.38,54.2 343.55,61.56 344.77,69.3C345.99,77.04 347.16,84.4 348.52,84.4C349.87,84.4 351.04,77.04 352.26,69.3C353.48,61.56 354.65,54.2 356,54.2C357.36,54.2 358.53,61.56 359.75,69.3C360.97,77.04 362.14,84.4 363.49,84.4C364.85,84.4 366.02,77.04 367.24,69.3C368.46,61.56 369.63,54.2 370.98,54.2C372.33,54.2 373.5,61.56 374.72,69.3C375.94,77.04 377.11,84.4 378.47,84.4C379.82,84.4 380.99,77.04 382.21,69.3C383.43,61.56 384.6,54.2 385.96,54.2C387.31,54.2 388.48,61.56 389.7,69.3C390.92,77.04 392.09,84.4 393.44,84.4C394.8,84.4 395.97,77.04 397.19,69.3C398.41,61.56 399.58,54.2 400.93,54.2C402.28,54.2 403.45,61.56 404.67,69.3C405.89,77.04 407.06,84.4 408.42,84.4C409.77,84.4 410.94,77.04 412.16,69.3C413.38,61.56 414.55,54.2 415.9,54.2C417.26,54.2 418.43,61.56 419.65,69.3C420.87,77.04 422.04,84.4 423.39,84.4C424.75,84.4 425.92,77.04 427.14,69.3C428.36,61.56 429.53,54.2 430.88,54.2C432.23,54.2 433.4,61.56 434.62,69.3C435.84,77.04 437.01,84.4 438.37,84.4C439.72,84.4 440.89,77.04 442.11,69.3C443.33,61.56 444.5,54.2 445.86,54.2C447.21,54.2 448.38,61.56 449.6,69.3C450.82,77.04 451.99,84.4 453.34,84.4C454.7,84.4 455.87,77.04 457.09,69.3C458.31,61.56 459.48,54.2 460.83,54.2C462.18,54.2 463.35,61.56 464.57,69.3C465.79,77.04 466.96,84.4 468.32,84.4C469.67,84.4 470.84,77.04 472.06,69.3C473.28,61.56 474.45,54.2 475.81,54.2C477.16,54.2 478.33,61.56 479.55,69.3C480.77,77.04 481.94,84.4 483.29,84.4C484.65,84.4 485.82,77.04 487.04,69.3C488.26,61.56 489.43,54.2 490.78,54.2C492.13,54.2 493.3,61.56 494.52,69.3C495.74,77.04 496.91,84.4 498.27,84.4C499.62,84.4 500.79,77.04 502.01,69.3C503.23,61.56 504.4,54.2 505.76,54.2C507.11,54.2 508.28,61.56 509.5,69.3C510.72,77.04 511.89,84.4 513.24,84.4C514.6,84.4 515.77,77.04 516.99,69.3C518.21,61.56 519.38,54.2 520.73,54.2C522.08,54.2 523.25,61.56 524.47,69.3C525.69,77.04 526.86,84.4 528.22,84.4C529.57,84.4 530.74,77.04 531.96,69.3C533.18,61.56 534.35,54.2 535.71,54.2C537.06,54.2 538.23,61.56 539.45,69.3C540.67,77.04 541.84,84.4 543.19,84.4C544.55,84.4 545.72,77.04 546.94,69.3C548.16,61.56 549.33,54.2 550.68,54.2C552.03,54.2 553.2,61.56 554.42,69.3C555.64,77.04 556.81,84.4 558.17,84.4C559.52,84.4 560.69,77.04 561.91,69.3C563.13,61.56 564.3,54.2 565.65,54.2C567.01,54.2 568.18,61.56 569.4,69.3C570.62,77.04 571.79,84.4 573.14,84.4C574.5,84.4 575.67,77.04 576.89,69.3C578.11,61.56 579.28,54.2 580.63,54.2C581.98,54.2 583.15,61.56 584.37,69.3C585.59,77.04 586.76,84.4 588.12,84.4C589.47,84.4 590.64,77.04 591.86,69.3C593.08,61.56 594.25,54.2 595.61,54.2C596.96,54.2 598.13,61.56 599.35,69.3C600.57,77.04 601.74,84.4 603.09,84.4C604.45,84.4 605.62,77.04 606.84,69.3C608.06,61.56 609.23,54.2 610.58,54.2C611.93,54.2 613.1,61.56 614.32,69.3C615.54,77.04 616.71,84.4 618.07,84.4C619.42,84.4 620.59,77.04 621.81,69.3C623.03,61.56 624.2,54.2 625.55,54.2C626.91,54.2 628.08,61.56 629.3,69.3C630.52,77.04 631.69,84.4 633.04,84.4C634.4,84.4 635.57,77.04 636.79,69.3C638.01,61.56 639.18,54.2 640.53,54.2C641.88,54.2 643.05,61.56 644.27,69.3C645.49,77.04 646.66,84.4 648.02,84.4C649.37,84.4 650.54,77.04 651.76,69.3C652.98,61.56 654.15,54.2 655.5,54.2C656.86,54.2 658.03,61.56 659.25,69.3C660.47,77.04 661.64,84.4 662.99,84.4C664.35,84.4 665.52,77.04 666.74,69.3C667.96,61.56 669.13,54.2 670.48,54.2C671.83,54.2 673,61.56 674.22,69.3C675.44,77.04 676.61,84.4 677.97,84.4C679.32,84.4 680.49,77.04 681.71,69.3C682.93,61.56 684.1,54.2 685.45,54.2C686.81,54.2 687.98,61.56 689.2,69.3C690.42,77.04 691.59,84.4 692.94,84.4C694.3,84.4 695.47,77.04 696.69,69.3C697.91,61.56 699.08,54.2 700.43,54.2C701.78,54.2 702.95,61.56 704.17,69.3C705.39,77.04 706.56,84.4 707.92,84.4C709.27,84.4 710.44,77.04 711.66,69.3C712.88,61.56 714.05,54.2 715.4,54.2C716.76,54.2 717.93,61.56 719.15,69.3C720.37,77.04 721.54,84.4 722.89,84.4C724.25,84.4 725.42,77.04 726.64,69.3C727.86,61.56 729.03,54.2 730.38,54.2C731.73,54.2 732.9,61.56 734.12,69.3C735.34,77.04 736.51,84.4 737.87,84.4C739.22,84.4 740.39,77.04 741.61,69.3C742.83,61.56 744,54.2 745.35,54.2C746.71,54.2 747.88,61.56 749.1,69.3C750.32,77.04 751.49,84.4 752.84,84.4C754.2,84.4 755.37,77.04 756.59,69.3C757.81,61.56 758.98,54.2 760.33,54.2C761.68,54.2 762.85,61.56 764.07,69.3C765.29,77.04 766.46,84.4 767.82,84.4C769.17,84.4 770.34,77.04 771.56,69.3C772.78,61.56 773.95,54.2 775.3,54.2C776.66,54.2 777.83,61.56 779.05,69.3C780.27,77.04 781.44,84.4 782.79,84.4C784.15,84.4 785.32,77.04 786.54,69.3C787.76,61.56 788.93,54.2 790.28,54.2C791.63,54.2 792.8,61.56 794.02,69.3C795.24,77.04 796.41,84.4 797.77,84.4C799.12,84.4 800.29,77.04 801.51,69.3C802.73,61.56 803.9,54.2 805.25,54.2C806.61,54.2 807.78,61.56 809,69.3C810.22,77.04 811.39,84.4 812.74,84.4C814.1,84.4 815.27,77.04 816.49,69.3C817.71,61.56 818.88,54.2 820.23,54.2C821.58,54.2 822.75,61.56 823.97,69.3C825.19,77.04 826.36,84.4 827.72,84.4C829.07,84.4 830.24,77.04 831.46,69.3C832.68,61.56 833.85,54.2 835.2,54.2C836.56,54.2 837.73,61.56 838.95,69.3C840.17,77.04 841.34,84.4 842.69,84.4C844.05,84.4 845.22,77.04 846.44,69.3C847.66,61.56 848.83,54.2 850.18,54.2C851.53,54.2 852.7,61.56 853.92,69.3C855.14,77.04 856.31,84.4 857.67,84.4C859.02,84.4 860.19,77.04 861.41,69.3C862.63,61.56 863.8,54.2 865.15,54.2C866.51,54.2 867.68,61.56 868.9,69.3C870.12,77.04 871.29,84.4 872.64,84.4C874,84.4 875.17,77.04 876.39,69.3C877.61,61.56 878.78,54.2 880.13,54.2C881.48,54.2 882.65,61.56 883.87,69.3C885.09,77.04 886.26,84.4 887.62,84.4C888.97,84.4 890.14,77.04 891.36,69.3C892.58,61.56 893.75,54.2 895.1,54.2C896.46,54.2 897.63,61.56 898.85,69.3C900.07,77.04 901.24,84.4 902.59,84.4C903.95,84.4 905.12,77.04 906.34,69.3C907.56,61.56 908.73,54.2 910.08,54.2C911.43,54.2 912.6,61.56 913.82,69.3C915.04,77.04 916.21,84.4 917.57,84.4C918.92,84.4 920.09,77.04 921.31,69.3C922.53,61.56 923.7,54.2 925.05,54.2C926.41,54.2 927.58,61.56 928.8,69.3C930.02,77.04 931.19,84.4 932.54,84.4C933.9,84.4 935.07,77.04 936.29,69.3C937.51,61.56 938.68,54.2 940.03,54.2C941.38,54.2 942.55,61.56 943.77,69.3C944.99,77.04 946.16,84.4 947.52,84.4C948.87,84.4 950.04,77.04 951.26,69.3C952.48,61.56 953.65,54.2 955,54.2C956.36,54.2 957.53,61.56 958.75,69.3C959.97,77.04 961.14,84.4 962.49,84.4C963.85,84.4 965.02,77.04 966.24,69.3C967.46,61.56 968.63,54.2 969.98,54.2C971.33,54.2 972.5,61.56 973.72,69.3C974.94,77.04 976.11,84.4 977.47,84.4C978.82,84.4 979.99,77.04 981.21,69.3C982.43,61.56 983.6,54.2 984.95,54.2C986.31,54.2 987.48,61.56 988.7,69.3C989.92,77.04 991.09,84.4 992.44,84.4C993.8,84.4 994.97,77.04 996.19,69.3C997.41,61.56 998.58,54.2 999.93,54.2C1001.28,54.2 1002.45,61.56 1003.67,69.3C1004.89,77.04 1006.06,84.4 1007.42,84.4C1008.77,84.4 1009.94,77.04 1011.16,69.3C1012.38,61.56 1013.55,54.2 1014.9,54.2C1016.26,54.2 1017.43,61.56 1018.65,69.3C1019.87,77.04 1021.04,84.4 1022.39,84.4C1023.75,84.4 1024.92,77.04 1026.14,69.3C1027.36,61.56 1028.53,54.2 1029.88,54.2C1031.23,54.2 1032.4,61.56 1033.62,69.3C1034.84,77.04 1036.01,84.4 1037.37,84.4C1038.72,84.4 1039.89,77.04 1041.11,69.3C1042.33,61.56 1043.5,54.2 1044.86,54.2C1046.21,54.2 1047.38,61.56 1048.6,69.3C1049.82,77.04 1050.99,84.4 1052.34,84.4C1053.7,84.4 1054.87,77.04 1056.09,69.3C1057.31,61.56 1058.48,54.2 1059.83,54.2C1061.18,54.2 1062.35,61.56 1063.57,69.3C1064.79,77.04 1065.96,84.4 1067.32,84.4C1068.67,84.4 1069.84,77.04 1071.06,69.3C1072.28,61.56 1073.45,54.2 1074.81,54.2C1076.16,54.2 1077.33,61.56 1078.55,69.3C1079.77,77.04 1080.94,84.4 1082.29,84.4C1083.65,84.4 1084.82,77.04 1086.04,69.3C1087.26,61.56 1088.43,54.2 1089.78,54.2C1091.13,54.2 1092.3,61.56 1093.52,69.3C1094.74,77.04 1095.91,84.4 1097.27,84.4C1098.62,84.4 1099.79,77.04 1101.01,69.3C1102.23,61.56 1103.4,54.2 1104.75,54.2C1106.11,54.2 1107.28,61.56 1108.5,69.3C1109.72,77.04 1110.89,84.4 1112.24,84.4C1113.6,84.4 1114.77,77.04 1115.99,69.3C1117.21,61.56 1118.38,54.2 1119.73,54.2C1121.08,54.2 1122.25,61.56 1123.47,69.3C1124.69,77.04 1125.86,84.4 1127.22,84.4C1128.57,84.4 1129.74,77.04 1130.96,69.3C1132.18,61.56 1133.35,54.2 1134.7,54.2C1136.06,54.2 1137.23,61.56 1138.45,69.3C1139.67,77.04 1140.84,84.4 1142.19,84.4C1143.55,84.4 1144.72,77.04 1145.94,69.3C1147.16,61.56 1148.33,54.2 1149.68,54.2C1151.03,54.2 1152.2,61.56 1153.42,69.3C1154.64,77.04 1155.81,84.4 1157.17,84.4C1158.52,84.4 1159.69,77.04 1160.91,69.3C1162.13,61.56 1163.3,54.2 1164.65,54.2C1166.01,54.2 1167.18,61.56 1168.4,69.3C1169.62,77.04 1170.79,84.4 1172.14,84.4C1173.5,84.4 1174.67,77.04 1175.89,69.3C1177.11,61.56 1178.28,54.2 1179.63,54.2C1180.98,54.2 1182.15,61.56 1183.37,69.3C1184.59,77.04 1185.76,84.4 1187.12,84.4C1188.47,84.4 1189.64,77.04 1190.86,69.3C1192.08,61.56 1193.25,54.2 1194.61,54.2C1195.96,54.2 1197.13,61.56 1198.35,69.3C1199.57,77.04 1200.74,84.4 1202.09,84.4C1203.45,84.4 1204.62,77.04 1205.84,69.3C1207.06,61.56 1208.23,54.2 1209.58,54.2"/><clipPath id="wc"><rect x="0" y="0" width="1198.5" height="140"/></clipPath></defs></svg>
<svg class="ic" style="left:300px;top:136px" width="1299" height="244" viewBox="300 136 1299 244"><rect x="344" y="190" width="1199" height="140" fill="#fff"/><path d="M352 190.5H1542" stroke="#909090" stroke-width="1" stroke-dasharray="3 1" fill="none" shape-rendering="crispEdges"/><path d="M352 210.5H1542M352 230.5H1542M352 250.5H1542M352 270.5H1542M352 290.5H1542M352 310.5H1542M403.5 190V325M463.5 190V325M523.5 190V325M583.5 190V325M643.5 190V325M703.5 190V325M763.5 190V325M823.5 190V325M883.5 190V325M943.5 190V325M1003.5 190V325M1063.5 190V325M1123.5 190V325M1183.5 190V325M1243.5 190V325M1303.5 190V325M1363.5 190V325M1423.5 190V325M1483.5 190V325" stroke="#b8b8b8" stroke-width="1" stroke-dasharray="2 2" fill="none" shape-rendering="crispEdges"/><path d="M344 194.5h5M344 198.5h5M344 202.5h5M344 206.5h5M344 214.5h5M344 218.5h5M344 222.5h5M344 226.5h5M344 234.5h5M344 238.5h5M344 242.5h5M344 246.5h5M344 254.5h5M344 258.5h5M344 262.5h5M344 266.5h5M344 274.5h5M344 278.5h5M344 282.5h5M344 286.5h5M344 294.5h5M344 298.5h5M344 302.5h5M344 306.5h5M344 314.5h5M344 318.5h5M344 322.5h5M344 326.5h5" stroke="#c4c4c4" stroke-width="1" fill="none" shape-rendering="crispEdges"/><g transform="translate(344 190)" clip-path="url(#wc)"><g transform="translate(0 0)"><use href="#wv" fill="none" stroke="#6e6e6e" stroke-width="1.18"/></g></g><path d="M1542.5 190V322" stroke="#9a9a9a" stroke-width="1" fill="none" shape-rendering="crispEdges"/><path d="M344 222.5H1541M561.5 190V330" stroke="#ff0000" stroke-width="1" fill="none" shape-rendering="crispEdges"/><path d="M344 302.5H1541M1102.5 190V330" stroke="#00c800" stroke-width="1" fill="none" shape-rendering="crispEdges"/><path d="M343.5 190V331M343 330.5H1543M344 190.5h8M344 210.5h8M344 230.5h8M344 250.5h8M344 270.5h8M344 290.5h8M344 310.5h8M344 330.5h8M403.5 330v-5M463.5 330v-5M523.5 330v-5M583.5 330v-8M643.5 330v-5M703.5 330v-5M763.5 330v-5M823.5 330v-8M883.5 330v-5M943.5 330v-5M1003.5 330v-5M1063.5 330v-8M1123.5 330v-5M1183.5 330v-5M1243.5 330v-5M1303.5 330v-8M1363.5 330v-5M1423.5 330v-5M1483.5 330v-5M1542.5 330v-8" stroke="#000" stroke-width="1" fill="none" shape-rendering="crispEdges"/><g font-family="Liberation Sans,sans-serif" font-size="11" fill="#000"><text x="335.6" y="194" text-anchor="end">4</text><text x="335.6" y="214" text-anchor="end">3</text><text x="335.6" y="234" text-anchor="end">2</text><text x="335.6" y="254" text-anchor="end">1</text><text x="335.6" y="274" text-anchor="end">0</text><text x="335.6" y="294" text-anchor="end"><tspan font-size="13" dx="-0.5">-</tspan><tspan dx="0.5">1</tspan></text><text x="335.6" y="314" text-anchor="end"><tspan font-size="13" dx="-0.5">-</tspan><tspan dx="0.5">2</tspan></text><text x="335.6" y="334" text-anchor="end"><tspan font-size="13" dx="-0.5">-</tspan><tspan dx="0.5">3</tspan></text><text x="583.5" y="347" text-anchor="middle">2</text><text x="823.5" y="347" text-anchor="middle">4</text><text x="1063.5" y="347" text-anchor="middle">6</text><text x="1303.5" y="347" text-anchor="middle">8</text><text x="1542.5" y="347" text-anchor="middle">10</text></g><g font-family="DejaVu Sans,sans-serif" font-weight="bold" font-size="12" letter-spacing="0.18"><text x="568" y="304" fill="#ff0000">x=1.542500</text><text x="568" y="320" fill="#ff0000">y1=0.510130</text><text x="1109" y="304" fill="#00c800">x=0.5800500</text><text x="1109" y="320" fill="#00c800">y1=-0.631444</text><text x="1538.4" y="239" fill="#ff0000" text-anchor="end">y=2.089106</text></g></svg>
<div style="left:874px;top:163px;width:10px;height:10px;background:#000;border:1px solid #777;box-sizing:border-box"></div>
<div class="t" style="top:160.5px;line-height:16px;height:16px;color:#111;left:892.5px;"><span style="letter-spacing:0.21px">Bus-5 A</span>相电压瞬时值</div>
<svg class="ic" style="left:300px;top:382px" width="1299" height="244" viewBox="300 382 1299 244"><rect x="344" y="436" width="1199" height="140" fill="#fff"/><path d="M352 436.5H1542" stroke="#909090" stroke-width="1" stroke-dasharray="3 1" fill="none" shape-rendering="crispEdges"/><path d="M352 456.5H1542M352 476.5H1542M352 496.5H1542M352 516.5H1542M352 536.5H1542M352 556.5H1542M403.5 436V571M463.5 436V571M523.5 436V571M583.5 436V571M643.5 436V571M703.5 436V571M763.5 436V571M823.5 436V571M883.5 436V571M943.5 436V571M1003.5 436V571M1063.5 436V571M1123.5 436V571M1183.5 436V571M1243.5 436V571M1303.5 436V571M1363.5 436V571M1423.5 436V571M1483.5 436V571" stroke="#b8b8b8" stroke-width="1" stroke-dasharray="2 2" fill="none" shape-rendering="crispEdges"/><path d="M344 440.5h5M344 444.5h5M344 448.5h5M344 452.5h5M344 460.5h5M344 464.5h5M344 468.5h5M344 472.5h5M344 480.5h5M344 484.5h5M344 488.5h5M344 492.5h5M344 500.5h5M344 504.5h5M344 508.5h5M344 512.5h5M344 520.5h5M344 524.5h5M344 528.5h5M344 532.5h5M344 540.5h5M344 544.5h5M344 548.5h5M344 552.5h5M344 560.5h5M344 564.5h5M344 568.5h5M344 572.5h5" stroke="#c4c4c4" stroke-width="1" fill="none" shape-rendering="crispEdges"/><g transform="translate(344 436)" clip-path="url(#wc)"><g transform="translate(0 1)"><use href="#wv" fill="none" stroke="#6e6e6e" stroke-width="1.18"/></g></g><path d="M1542.5 436V568" stroke="#9a9a9a" stroke-width="1" fill="none" shape-rendering="crispEdges"/><path d="M344 468.5H1541M561.5 436V576" stroke="#ff0000" stroke-width="1" fill="none" shape-rendering="crispEdges"/><path d="M344 548.5H1541M1102.5 436V576" stroke="#00c800" stroke-width="1" fill="none" shape-rendering="crispEdges"/><path d="M343.5 436V577M343 576.5H1543M344 436.5h8M344 456.5h8M344 476.5h8M344 496.5h8M344 516.5h8M344 536.5h8M344 556.5h8M344 576.5h8M403.5 576v-5M463.5 576v-5M523.5 576v-5M583.5 576v-8M643.5 576v-5M703.5 576v-5M763.5 576v-5M823.5 576v-8M883.5 576v-5M943.5 576v-5M1003.5 576v-5M1063.5 576v-8M1123.5 576v-5M1183.5 576v-5M1243.5 576v-5M1303.5 576v-8M1363.5 576v-5M1423.5 576v-5M1483.5 576v-5M1542.5 576v-8" stroke="#000" stroke-width="1" fill="none" shape-rendering="crispEdges"/><g font-family="Liberation Sans,sans-serif" font-size="11" fill="#000"><text x="335.6" y="440" text-anchor="end">4</text><text x="335.6" y="460" text-anchor="end">3</text><text x="335.6" y="480" text-anchor="end">2</text><text x="335.6" y="500" text-anchor="end">1</text><text x="335.6" y="520" text-anchor="end">0</text><text x="335.6" y="540" text-anchor="end"><tspan font-size="13" dx="-0.5">-</tspan><tspan dx="0.5">1</tspan></text><text x="335.6" y="560" text-anchor="end"><tspan font-size="13" dx="-0.5">-</tspan><tspan dx="0.5">2</tspan></text><text x="335.6" y="580" text-anchor="end"><tspan font-size="13" dx="-0.5">-</tspan><tspan dx="0.5">3</tspan></text><text x="583.5" y="593" text-anchor="middle">2</text><text x="823.5" y="593" text-anchor="middle">4</text><text x="1063.5" y="593" text-anchor="middle">6</text><text x="1303.5" y="593" text-anchor="middle">8</text><text x="1542.5" y="593" text-anchor="middle">10</text></g><g font-family="DejaVu Sans,sans-serif" font-weight="bold" font-size="12" letter-spacing="0.18"><text x="568" y="550" fill="#ff0000">x=1.542500</text><text x="568" y="566" fill="#ff0000">y1=0.510130</text><text x="1109" y="550" fill="#00c800">x=0.5800500</text><text x="1109" y="566" fill="#00c800">y1=-0.631444</text><text x="1538.4" y="485" fill="#ff0000" text-anchor="end">y=2.089106</text></g></svg>
<div style="left:690px;top:409px;width:10px;height:10px;background:#ffff00;border:1px solid #777;box-sizing:border-box"></div>
<div class="t" style="top:406.5px;line-height:16px;height:16px;color:#111;left:708.5px;"><span style="letter-spacing:0.21px">Bus-5 A</span>相电压瞬时值</div>
<div style="left:874px;top:409px;width:10px;height:10px;background:#00ff00;border:1px solid #777;box-sizing:border-box"></div>
<div class="t" style="top:406.5px;line-height:16px;height:16px;color:#111;left:892.5px;"><span style="letter-spacing:0.12px">Bus-5 B</span>相电压瞬时值</div>
<div style="left:1058px;top:409px;width:10px;height:10px;background:#ff0000;border:1px solid #777;box-sizing:border-box"></div>
<div class="t" style="top:406.5px;line-height:16px;height:16px;color:#111;left:1076.5px;"><span style="letter-spacing:0.02px">Bus-5 C</span>相电压瞬时值</div>
<svg class="ic" style="left:300px;top:628px" width="1299" height="244" viewBox="300 628 1299 244"><rect x="344" y="682" width="1199" height="140" fill="#fff"/><path d="M352 682.5H1542" stroke="#909090" stroke-width="1" stroke-dasharray="3 1" fill="none" shape-rendering="crispEdges"/><path d="M352 702.5H1542M352 722.5H1542M352 742.5H1542M352 762.5H1542M352 782.5H1542M352 802.5H1542M403.5 682V817M463.5 682V817M523.5 682V817M583.5 682V817M643.5 682V817M703.5 682V817M763.5 682V817M823.5 682V817M883.5 682V817M943.5 682V817M1003.5 682V817M1063.5 682V817M1123.5 682V817M1183.5 682V817M1243.5 682V817M1303.5 682V817M1363.5 682V817M1423.5 682V817M1483.5 682V817" stroke="#b8b8b8" stroke-width="1" stroke-dasharray="2 2" fill="none" shape-rendering="crispEdges"/><path d="M344 686.5h5M344 690.5h5M344 694.5h5M344 698.5h5M344 706.5h5M344 710.5h5M344 714.5h5M344 718.5h5M344 726.5h5M344 730.5h5M344 734.5h5M344 738.5h5M344 746.5h5M344 750.5h5M344 754.5h5M344 758.5h5M344 766.5h5M344 770.5h5M344 774.5h5M344 778.5h5M344 786.5h5M344 790.5h5M344 794.5h5M344 798.5h5M344 806.5h5M344 810.5h5M344 814.5h5M344 818.5h5" stroke="#c4c4c4" stroke-width="1" fill="none" shape-rendering="crispEdges"/><g transform="translate(344 682)" clip-path="url(#wc)"><g transform="translate(0 1)"><use href="#wv" fill="none" stroke="#6e6e6e" stroke-width="1.18"/></g></g><path d="M1542.5 682V814" stroke="#9a9a9a" stroke-width="1" fill="none" shape-rendering="crispEdges"/><path d="M344 714.5H1541M561.5 682V822" stroke="#ff0000" stroke-width="1" fill="none" shape-rendering="crispEdges"/><path d="M344 794.5H1541M1102.5 682V822" stroke="#00c800" stroke-width="1" fill="none" shape-rendering="crispEdges"/><path d="M343.5 682V823M343 822.5H1543M344 682.5h8M344 702.5h8M344 722.5h8M344 742.5h8M344 762.5h8M344 782.5h8M344 802.5h8M344 822.5h8M403.5 822v-5M463.5 822v-5M523.5 822v-5M583.5 822v-8M643.5 822v-5M703.5 822v-5M763.5 822v-5M823.5 822v-8M883.5 822v-5M943.5 822v-5M1003.5 822v-5M1063.5 822v-8M1123.5 822v-5M1183.5 822v-5M1243.5 822v-5M1303.5 822v-8M1363.5 822v-5M1423.5 822v-5M1483.5 822v-5M1542.5 822v-8" stroke="#000" stroke-width="1" fill="none" shape-rendering="crispEdges"/><g font-family="Liberation Sans,sans-serif" font-size="11" fill="#000"><text x="335.6" y="686" text-anchor="end">4</text><text x="335.6" y="706" text-anchor="end">3</text><text x="335.6" y="726" text-anchor="end">2</text><text x="335.6" y="746" text-anchor="end">1</text><text x="335.6" y="766" text-anchor="end">0</text><text x="335.6" y="786" text-anchor="end"><tspan font-size="13" dx="-0.5">-</tspan><tspan dx="0.5">1</tspan></text><text x="335.6" y="806" text-anchor="end"><tspan font-size="13" dx="-0.5">-</tspan><tspan dx="0.5">2</tspan></text><text x="335.6" y="826" text-anchor="end"><tspan font-size="13" dx="-0.5">-</tspan><tspan dx="0.5">3</tspan></text><text x="583.5" y="839" text-anchor="middle">2</text><text x="823.5" y="839" text-anchor="middle">4</text><text x="1063.5" y="839" text-anchor="middle">6</text><text x="1303.5" y="839" text-anchor="middle">8</text><text x="1542.5" y="839" text-anchor="middle">10</text></g><g font-family="DejaVu Sans,sans-serif" font-weight="bold" font-size="12" letter-spacing="0.18"><text x="568" y="796" fill="#ff0000">x=1.542500</text><text x="568" y="812" fill="#ff0000">y1=0.510130</text><text x="1109" y="796" fill="#00c800">x=0.5800500</text><text x="1109" y="812" fill="#00c800">y1=-0.631444</text><text x="1538.4" y="731" fill="#ff0000" text-anchor="end">y=2.089106</text></g></svg>
<div style="left:874px;top:655px;width:10px;height:10px;background:#000;border:1px solid #777;box-sizing:border-box"></div>
<div class="t" style="top:652.5px;line-height:16px;height:16px;color:#111;left:892.5px;"><span style="letter-spacing:0.02px">Bus-5 C</span>相电压瞬时值</div>
<div style="left:0px;top:874px;width:1600px;height:34px;background:#f0f0f0"></div>
<div style="left:0px;top:874px;width:1600px;height:1px;background:#e2e7e6"></div>
<div style="left:0px;top:874px;width:90px;height:34px;background:#fff"></div>
<div style="left:0px;top:874px;width:90px;height:2px;background:#056c67"></div>
<div class="t" style="top:883.5px;line-height:16px;height:16px;color:#0b7b74;left:21px;">曲线测值</div>
<div class="t" style="top:883.5px;line-height:16px;height:16px;color:#333;left:113px;">谐波分析</div>
<svg class="ic" style="left:1577px;top:888px" width="10" height="10" viewBox="0 0 10 10" ><path d="M0.3 0.3l8.8 8.8M9.1 0.3l-8.8 8.8" stroke="#9a9a9a" stroke-width="0.9" fill="none"/></svg>
<div style="left:0px;top:908px;width:1600px;height:172px;background:#fff"></div>
<div style="left:20px;top:942px;width:1580px;height:34px;background:#f8f8f8"></div>
<div style="left:20px;top:1010px;width:1580px;height:35px;background:#f8f8f8"></div>
<div style="left:20px;top:941px;width:1580px;height:1px;background:#ebebeb"></div>
<div style="left:20px;top:975px;width:1580px;height:1px;background:#ebebeb"></div>
<div style="left:20px;top:1010px;width:1580px;height:1px;background:#ebebeb"></div>
<div style="left:20px;top:1045px;width:1580px;height:1px;background:#ebebeb"></div>
<div style="left:20px;top:1079px;width:1580px;height:1px;background:#ebebeb"></div>
<div style="left:19px;top:908px;width:1px;height:172px;background:#e9ebeb"></div>
<div style="left:288px;top:910px;width:1px;height:172px;background:#e9ebeb"></div>
<div style="left:362px;top:910px;width:1px;height:172px;background:#e9ebeb"></div>
<div style="left:459px;top:910px;width:1px;height:172px;background:#e9ebeb"></div>
<div style="left:529px;top:910px;width:1px;height:172px;background:#e9ebeb"></div>
<div style="left:617px;top:910px;width:1px;height:172px;background:#e9ebeb"></div>
<div style="left:682px;top:910px;width:1px;height:172px;background:#e9ebeb"></div>
<div style="left:758px;top:910px;width:1px;height:172px;background:#e9ebeb"></div>
<div style="left:826px;top:910px;width:1px;height:172px;background:#e9ebeb"></div>
<div style="left:917px;top:910px;width:1px;height:172px;background:#e9ebeb"></div>
<div style="left:985px;top:910px;width:1px;height:172px;background:#e9ebeb"></div>
<div style="left:1076px;top:910px;width:1px;height:172px;background:#e9ebeb"></div>
<div style="left:1156px;top:910px;width:1px;height:172px;background:#e9ebeb"></div>
<div style="left:1247px;top:910px;width:1px;height:172px;background:#e9ebeb"></div>
<div style="left:1327px;top:910px;width:1px;height:172px;background:#e9ebeb"></div>
<div style="left:1394px;top:910px;width:1px;height:172px;background:#e9ebeb"></div>
<div style="left:1599px;top:908px;width:1px;height:172px;background:#e9ebeb"></div>
<div style="left:0px;top:908px;width:1px;height:172px;background:#e6e6e6"></div>
<div class="t" style="top:917.5px;line-height:16px;height:16px;color:#333;left:-47.5px;width:400px;text-align:center;">已选曲线</div>
<div class="t" style="top:917.5px;line-height:16px;height:16px;color:#333;left:125.5px;width:400px;text-align:center;">x轴平移</div>
<div class="t" style="top:917.5px;line-height:16px;height:16px;color:#333;left:211px;width:400px;text-align:center;">y轴倍乘系数</div>
<div class="t" style="top:917.5px;line-height:16px;height:16px;color:#333;left:294.5px;width:400px;text-align:center;">T1</div>
<div class="t" style="top:917.5px;line-height:16px;height:16px;color:#333;left:373.5px;width:400px;text-align:center;">Y1</div>
<div class="t" style="top:917.5px;line-height:16px;height:16px;color:#333;left:450px;width:400px;text-align:center;">T2</div>
<div class="t" style="top:917.5px;line-height:16px;height:16px;color:#333;left:520.5px;width:400px;text-align:center;">Y2</div>
<div class="t" style="top:917.5px;line-height:16px;height:16px;color:#333;left:592.5px;width:400px;text-align:center;">最大值</div>
<div class="t" style="top:917.5px;line-height:16px;height:16px;color:#333;left:672px;width:400px;text-align:center;">最大值时间</div>
<div class="t" style="top:917.5px;line-height:16px;height:16px;color:#333;left:751.5px;width:400px;text-align:center;">最小值</div>
<div class="t" style="top:917.5px;line-height:16px;height:16px;color:#333;left:831px;width:400px;text-align:center;">最小值时间</div>
<div class="t" style="top:917.5px;line-height:16px;height:16px;color:#333;left:916.5px;width:400px;text-align:center;">最值插值</div>
<div class="t" style="top:917.5px;line-height:16px;height:16px;color:#333;left:1002px;width:400px;text-align:center;">时间轴插值</div>
<div class="t" style="top:917.5px;line-height:16px;height:16px;color:#333;left:1087.5px;width:400px;text-align:center;">数值插值</div>
<div class="t" style="top:917.5px;line-height:16px;height:16px;color:#333;left:1161px;width:400px;text-align:center;">有名值</div>
<div class="t" style="top:917.5px;line-height:16px;height:16px;color:#333;left:1297px;width:400px;text-align:center;">路径</div>
<div class="t" style="top:953px;line-height:16px;height:16px;color:#555;left:-189.5px;width:400px;text-align:center;">1</div>
<div class="t" style="top:953px;line-height:16px;height:16px;color:#333;left:31px;"><span style="letter-spacing:0.42px">DistributedParametersLine-309 i</span>侧<span style="letter-spacing:0.42px">A</span>相电流</div>
<div class="t" style="top:953px;line-height:16px;height:16px;color:#333;left:125.5px;width:400px;text-align:center;"><span style="letter-spacing:0.31px">0</span></div>
<div class="t" style="top:953px;line-height:16px;height:16px;color:#333;left:211px;width:400px;text-align:center;"><span style="letter-spacing:0.31px">1</span></div>
<div class="t" style="top:953px;line-height:16px;height:16px;color:#333;left:294.5px;width:400px;text-align:center;"><span style="letter-spacing:0.13px">2.2057</span></div>
<div class="t" style="top:953px;line-height:16px;height:16px;color:#333;left:373.5px;width:400px;text-align:center;"><span style="letter-spacing:0.27px">-0.400274</span></div>
<div class="t" style="top:953px;line-height:16px;height:16px;color:#333;left:450px;width:400px;text-align:center;"><span style="letter-spacing:0.22px">5e-05</span></div>
<div class="t" style="top:953px;line-height:16px;height:16px;color:#333;left:520.5px;width:400px;text-align:center;"><span style="letter-spacing:0.16px">0.30879</span></div>
<div class="t" style="top:953px;line-height:16px;height:16px;color:#333;left:592.5px;width:400px;text-align:center;"><span style="letter-spacing:0.31px">0</span></div>
<div class="t" style="top:953px;line-height:16px;height:16px;color:#333;left:672px;width:400px;text-align:center;"><span style="letter-spacing:0.22px">5e-05</span></div>
<div class="t" style="top:953px;line-height:16px;height:16px;color:#333;left:751.5px;width:400px;text-align:center;"><span style="letter-spacing:0.31px">0</span></div>
<div class="t" style="top:953px;line-height:16px;height:16px;color:#333;left:831px;width:400px;text-align:center;"><span style="letter-spacing:0.22px">5e-05</span></div>
<div class="t" style="top:953px;line-height:16px;height:16px;color:#333;left:916.5px;width:400px;text-align:center;"><span style="letter-spacing:0.31px">0</span></div>
<div class="t" style="top:953px;line-height:16px;height:16px;color:#333;left:1002px;width:400px;text-align:center;"><span style="letter-spacing:0.13px">4.9502</span></div>
<div class="t" style="top:953px;line-height:16px;height:16px;color:#333;left:1087.5px;width:400px;text-align:center;"><span style="letter-spacing:0.31px">0</span></div>
<div class="t" style="top:953px;line-height:16px;height:16px;color:#333;left:1161px;width:400px;text-align:center;"><span style="letter-spacing:0.31px">0</span></div>
<div class="t" style="top:953px;line-height:16px;height:16px;color:#333;left:1406px;"><span style="letter-spacing:0.33px">ieee4</span>曲线阅览室<span style="letter-spacing:0.33px">/ADPSS/</span>文档<span style="letter-spacing:0.33px">/D:</span></div>
<div class="t" style="top:987px;line-height:16px;height:16px;color:#555;left:-189.5px;width:400px;text-align:center;">2</div>
<div class="t" style="top:987px;line-height:16px;height:16px;color:#333;left:31px;"><span style="letter-spacing:0.42px">DistributedParametersLine-309 i</span>侧<span style="letter-spacing:0.42px">A</span>相电流</div>
<div class="t" style="top:987px;line-height:16px;height:16px;color:#333;left:125.5px;width:400px;text-align:center;"><span style="letter-spacing:0.31px">0</span></div>
<div class="t" style="top:987px;line-height:16px;height:16px;color:#333;left:211px;width:400px;text-align:center;"><span style="letter-spacing:0.31px">1</span></div>
<div class="t" style="top:987px;line-height:16px;height:16px;color:#333;left:294.5px;width:400px;text-align:center;"><span style="letter-spacing:0.13px">2.2057</span></div>
<div class="t" style="top:987px;line-height:16px;height:16px;color:#333;left:373.5px;width:400px;text-align:center;"><span style="letter-spacing:0.27px">-0.400274</span></div>
<div class="t" style="top:987px;line-height:16px;height:16px;color:#333;left:450px;width:400px;text-align:center;"><span style="letter-spacing:0.22px">5e-05</span></div>
<div class="t" style="top:987px;line-height:16px;height:16px;color:#333;left:520.5px;width:400px;text-align:center;"><span style="letter-spacing:0.16px">0.30879</span></div>
<div class="t" style="top:987px;line-height:16px;height:16px;color:#333;left:592.5px;width:400px;text-align:center;"><span style="letter-spacing:0.31px">0</span></div>
<div class="t" style="top:987px;line-height:16px;height:16px;color:#333;left:672px;width:400px;text-align:center;"><span style="letter-spacing:0.22px">5e-05</span></div>
<div class="t" style="top:987px;line-height:16px;height:16px;color:#333;left:751.5px;width:400px;text-align:center;"><span style="letter-spacing:0.31px">0</span></div>
<div class="t" style="top:987px;line-height:16px;height:16px;color:#333;left:831px;width:400px;text-align:center;"><span style="letter-spacing:0.22px">5e-05</span></div>
<div class="t" style="top:987px;line-height:16px;height:16px;color:#333;left:916.5px;width:400px;text-align:center;"><span style="letter-spacing:0.31px">0</span></div>
<div class="t" style="top:987px;line-height:16px;height:16px;color:#333;left:1002px;width:400px;text-align:center;"><span style="letter-spacing:0.13px">4.9502</span></div>
<div class="t" style="top:987px;line-height:16px;height:16px;color:#333;left:1087.5px;width:400px;text-align:center;"><span style="letter-spacing:0.31px">0</span></div>
<div class="t" style="top:987px;line-height:16px;height:16px;color:#333;left:1161px;width:400px;text-align:center;"><span style="letter-spacing:0.31px">0</span></div>
<div class="t" style="top:987px;line-height:16px;height:16px;color:#333;left:1406px;"><span style="letter-spacing:0.33px">ieee4</span>曲线阅览室<span style="letter-spacing:0.33px">/ADPSS/</span>文档<span style="letter-spacing:0.33px">/D:</span></div>
<div class="t" style="top:1021px;line-height:16px;height:16px;color:#555;left:-189.5px;width:400px;text-align:center;">3</div>
<div class="t" style="top:1021px;line-height:16px;height:16px;color:#333;left:31px;"><span style="letter-spacing:0.42px">DistributedParametersLine-309 i</span>侧<span style="letter-spacing:0.42px">A</span>相电流</div>
<div class="t" style="top:1021px;line-height:16px;height:16px;color:#333;left:125.5px;width:400px;text-align:center;"><span style="letter-spacing:0.31px">0</span></div>
<div class="t" style="top:1021px;line-height:16px;height:16px;color:#333;left:211px;width:400px;text-align:center;"><span style="letter-spacing:0.31px">1</span></div>
<div class="t" style="top:1021px;line-height:16px;height:16px;color:#333;left:294.5px;width:400px;text-align:center;"><span style="letter-spacing:0.13px">2.2057</span></div>
<div class="t" style="top:1021px;line-height:16px;height:16px;color:#333;left:373.5px;width:400px;text-align:center;"><span style="letter-spacing:0.27px">-0.400274</span></div>
<div class="t" style="top:1021px;line-height:16px;height:16px;color:#333;left:450px;width:400px;text-align:center;"><span style="letter-spacing:0.22px">5e-05</span></div>
<div class="t" style="top:1021px;line-height:16px;height:16px;color:#333;left:520.5px;width:400px;text-align:center;"><span style="letter-spacing:0.16px">0.30879</span></div>
<div class="t" style="top:1021px;line-height:16px;height:16px;color:#333;left:592.5px;width:400px;text-align:center;"><span style="letter-spacing:0.31px">0</span></div>
<div class="t" style="top:1021px;line-height:16px;height:16px;color:#333;left:672px;width:400px;text-align:center;"><span style="letter-spacing:0.22px">5e-05</span></div>
<div class="t" style="top:1021px;line-height:16px;height:16px;color:#333;left:751.5px;width:400px;text-align:center;"><span style="letter-spacing:0.31px">0</span></div>
<div class="t" style="top:1021px;line-height:16px;height:16px;color:#333;left:831px;width:400px;text-align:center;"><span style="letter-spacing:0.22px">5e-05</span></div>
<div class="t" style="top:1021px;line-height:16px;height:16px;color:#333;left:916.5px;width:400px;text-align:center;"><span style="letter-spacing:0.31px">0</span></div>
<div class="t" style="top:1021px;line-height:16px;height:16px;color:#333;left:1002px;width:400px;text-align:center;"><span style="letter-spacing:0.13px">4.9502</span></div>
<div class="t" style="top:1021px;line-height:16px;height:16px;color:#333;left:1087.5px;width:400px;text-align:center;"><span style="letter-spacing:0.31px">0</span></div>
<div class="t" style="top:1021px;line-height:16px;height:16px;color:#333;left:1161px;width:400px;text-align:center;"><span style="letter-spacing:0.31px">0</span></div>
<div class="t" style="top:1021px;line-height:16px;height:16px;color:#333;left:1406px;"><span style="letter-spacing:0.33px">ieee4</span>曲线阅览室<span style="letter-spacing:0.33px">/ADPSS/</span>文档<span style="letter-spacing:0.33px">/D:</span></div>
<div class="t" style="top:1054px;line-height:16px;height:16px;color:#555;left:-189.5px;width:400px;text-align:center;">4</div>
<div class="t" style="top:1054px;line-height:16px;height:16px;color:#333;left:31px;"><span style="letter-spacing:0.42px">DistributedParametersLine-309 i</span>侧<span style="letter-spacing:0.42px">A</span>相电流</div>
<div class="t" style="top:1054px;line-height:16px;height:16px;color:#333;left:125.5px;width:400px;text-align:center;"><span style="letter-spacing:0.31px">0</span></div>
<div class="t" style="top:1054px;line-height:16px;height:16px;color:#333;left:211px;width:400px;text-align:center;"><span style="letter-spacing:0.31px">1</span></div>
<div class="t" style="top:1054px;line-height:16px;height:16px;color:#333;left:294.5px;width:400px;text-align:center;"><span style="letter-spacing:0.13px">2.2057</span></div>
<div class="t" style="top:1054px;line-height:16px;height:16px;color:#333;left:373.5px;width:400px;text-align:center;"><span style="letter-spacing:0.27px">-0.400274</span></div>
<div class="t" style="top:1054px;line-height:16px;height:16px;color:#333;left:450px;width:400px;text-align:center;"><span style="letter-spacing:0.22px">5e-05</span></div>
<div class="t" style="top:1054px;line-height:16px;height:16px;color:#333;left:520.5px;width:400px;text-align:center;"><span style="letter-spacing:0.16px">0.30879</span></div>
<div class="t" style="top:1054px;line-height:16px;height:16px;color:#333;left:592.5px;width:400px;text-align:center;"><span style="letter-spacing:0.31px">0</span></div>
<div class="t" style="top:1054px;line-height:16px;height:16px;color:#333;left:672px;width:400px;text-align:center;"><span style="letter-spacing:0.22px">5e-05</span></div>
<div class="t" style="top:1054px;line-height:16px;height:16px;color:#333;left:751.5px;width:400px;text-align:center;"><span style="letter-spacing:0.31px">0</span></div>
<div class="t" style="top:1054px;line-height:16px;height:16px;color:#333;left:831px;width:400px;text-align:center;"><span style="letter-spacing:0.22px">5e-05</span></div>
<div class="t" style="top:1054px;line-height:16px;height:16px;color:#333;left:916.5px;width:400px;text-align:center;"><span style="letter-spacing:0.31px">0</span></div>
<div class="t" style="top:1054px;line-height:16px;height:16px;color:#333;left:1002px;width:400px;text-align:center;"><span style="letter-spacing:0.13px">4.9502</span></div>
<div class="t" style="top:1054px;line-height:16px;height:16px;color:#333;left:1087.5px;width:400px;text-align:center;"><span style="letter-spacing:0.31px">0</span></div>
<div class="t" style="top:1054px;line-height:16px;height:16px;color:#333;left:1161px;width:400px;text-align:center;"><span style="letter-spacing:0.31px">0</span></div>
<div class="t" style="top:1054px;line-height:16px;height:16px;color:#333;left:1406px;"><span style="letter-spacing:0.33px">ieee4</span>曲线阅览室<span style="letter-spacing:0.33px">/ADPSS/</span>文档<span style="letter-spacing:0.33px">/D:</span></div>
</body></html>
